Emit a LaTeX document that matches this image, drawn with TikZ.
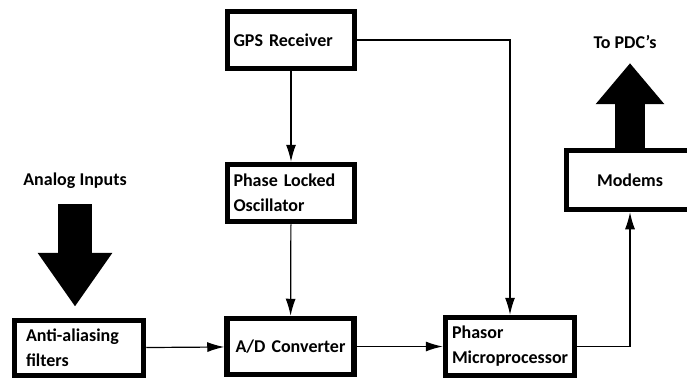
\documentclass[tikz,border=0pt]{standalone}
\usepackage{fontspec}
\setmainfont{Carlito}
\usetikzlibrary{arrows.meta,positioning}

\begin{document}
\begin{tikzpicture}[x=1pt, y=-1pt,
    every node/.style={font=\bfseries\fontsize{18}{25}\selectfont},
    blockbox/.style={draw, rectangle, line width=5.5pt, align=left,
        inner xsep=6pt, text width=115pt, minimum height=57pt},
    flowline/.style={line width=1.2pt, -{Latex[length=17pt,width=10pt]}},
    bigarrow/.style={line width=#1, shorten <=0pt}]
    \useasboundingbox (0,0) rectangle (687,378);
    %   %   %   %   %   %   %   %   %   %   %
    %   Timing chain
        \node[blockbox] (gps) at (291,40) {GPS Receiver};
        \node[blockbox] (plo) at (291,193) {Phase Locked\\Oscillator};
    %   %   %   %   %   %   %   %   %   %   %
    %   Measurement chain
        \node[blockbox, text width=106pt, inner xsep=11.5pt, minimum height=55pt]
            (aaf) at (79,348) {Anti-aliasing\\filters};
        \node[blockbox, align=center, minimum height=56pt]
            (adc) at (290.5,346.5) {A/D Converter};
        \node[blockbox, text width=116pt, inner xsep=6.5pt, minimum height=58pt]
            (pmu) at (510,346.5) {Phasor\\Microprocessor};
        \node[blockbox, align=center, minimum height=59pt]
            (mdm) at (630,180) {Modems};
    %   %   %   %   %   %   %   %   %   %   %
    %   Inputs and outputs
        \node (ain) at (75,181) {Analog Inputs};
        \node (pdc) at (625,42) {To PDC's};
        \draw[bigarrow=34pt, -{Triangle[length=54pt,width=71pt]},
            shorten <=12pt, shorten >=11pt] (ain.south) -- (ain.south |- aaf.north);
        \draw[bigarrow=30pt, -{Triangle[length=41pt,width=66pt]},
            shorten >=11pt] (mdm.north) -- (mdm.north |- pdc.south);
    %   %   %   %   %   %   %   %   %   %   %
    %   Signal flow
        \draw[flowline] (gps) -- (plo);
        \draw[flowline] (plo) -- (adc);
        \draw[flowline] (aaf) -- (adc);
        \draw[flowline] (adc) -- (pmu);
        \draw[flowline] (gps.east) -| (pmu.north);
        \draw[flowline] (pmu.east) -| (mdm.south);
\end{tikzpicture}
\end{document}
